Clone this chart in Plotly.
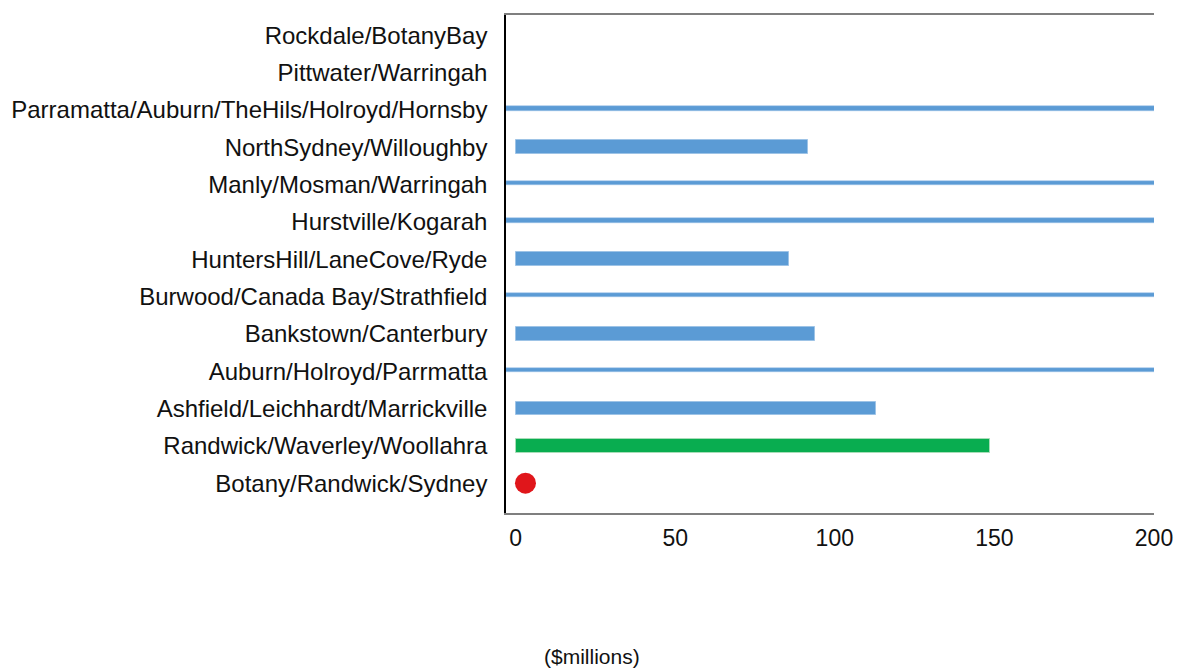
import plotly.graph_objects as go

# Categories, bottom to top
categories = [
    "Botany/Randwick/Sydney",
    "Randwick/Waverley/Woollahra",
    "Ashfield/Leichhardt/Marrickville",
    "Auburn/Holroyd/Parrmatta",
    "Bankstown/Canterbury",
    "Burwood/Canada Bay/Strathfield",
    "HuntersHill/LaneCove/Ryde",
    "Hurstville/Kogarah",
    "Manly/Mosman/Warringah",
    "NorthSydney/Willoughby",
    "Parramatta/Auburn/TheHils/Holroyd/Hornsby",
    "Pittwater/Warringah",
    "Rockdale/BotanyBay",
]

# Blue bars ($millions)
blue_cats = [
    "Ashfield/Leichhardt/Marrickville",
    "Bankstown/Canterbury",
    "HuntersHill/LaneCove/Ryde",
    "NorthSydney/Willoughby",
]
blue_vals = [112.8, 93.9, 85.8, 91.7]

# Green bar
green_cats = ["Randwick/Waverley/Woollahra"]
green_vals = [148.6]

# Red point
red_cats = ["Botany/Randwick/Sydney"]
red_vals = [3.1]

# Off-scale series (drawn as thin lines running past the axis end)
off_cats = [
    "Auburn/Holroyd/Parrmatta",
    "Burwood/Canada Bay/Strathfield",
    "Hurstville/Kogarah",
    "Manly/Mosman/Warringah",
    "Parramatta/Auburn/TheHils/Holroyd/Hornsby",
]
off_vals = [250, 250, 250, 250, 250]

x_min, x_max = -3, 200
x_ticks = [0, 50, 100, 150, 200]
x_title = "($millions)"

FONT = "Liberation Sans, Arial, sans-serif"
BLUE = "#5B9BD5"
GREEN = "#09AD50"
RED = "#E0161B"

fig = go.Figure()

fig.add_trace(go.Bar(
    y=off_cats, x=[v - x_min for v in off_vals], base=x_min, orientation="h",
    width=0.12, offset=-0.025,
    marker=dict(color=BLUE, line=dict(color="#9DC3E6", width=0.5)),
    showlegend=False, hoverinfo="skip",
))

fig.add_trace(go.Bar(
    y=blue_cats, x=blue_vals, orientation="h", width=0.36,
    marker=dict(color=BLUE, line=dict(color="#9DC3E6", width=1)),
    showlegend=False,
))

fig.add_trace(go.Bar(
    y=green_cats, x=green_vals, orientation="h", width=0.39,
    marker=dict(color=GREEN, line=dict(color="#A8DDB8", width=1)),
    showlegend=False,
))

fig.add_trace(go.Scatter(
    y=red_cats, x=red_vals, mode="markers",
    marker=dict(color=RED, size=21, line=dict(width=0)),
    showlegend=False,
))

fig.update_layout(
    width=1177, height=668,
    margin=dict(l=506, r=23, t=15, b=155, autoexpand=False),
    paper_bgcolor="white", plot_bgcolor="white",
    font=dict(family=FONT, color="#111111", size=23),
    bargap=0, barmode="overlay",
    xaxis=dict(
        range=[x_min, x_max], tickvals=x_ticks, ticktext=[str(t) for t in x_ticks],
        showgrid=False, zeroline=False, automargin=False,
        showline=True, mirror=True, linecolor="#7f7f7f", linewidth=1.5,
        ticks="", ticklabelstandoff=4,
        tickfont=dict(size=23, family=FONT, color="#111111"),
    ),
    yaxis=dict(
        type="category", categoryorder="array", categoryarray=categories,
        range=[-0.8, 12.54], automargin=False,
        showgrid=False, zeroline=False,
        showline=True, linecolor="#000000", linewidth=1.5,
        ticks="", ticklabelstandoff=12,
        tickfont=dict(size=24, family=FONT, color="#111111"),
    ),
    annotations=[dict(
        text=x_title, xref="paper", yref="paper",
        x=(592 - 506) / 648, y=(513 - 656) / 498,
        xanchor="center", yanchor="middle", showarrow=False,
        font=dict(size=21, family=FONT, color="#111111"),
    )],
)

fig.write_html("out.html")
